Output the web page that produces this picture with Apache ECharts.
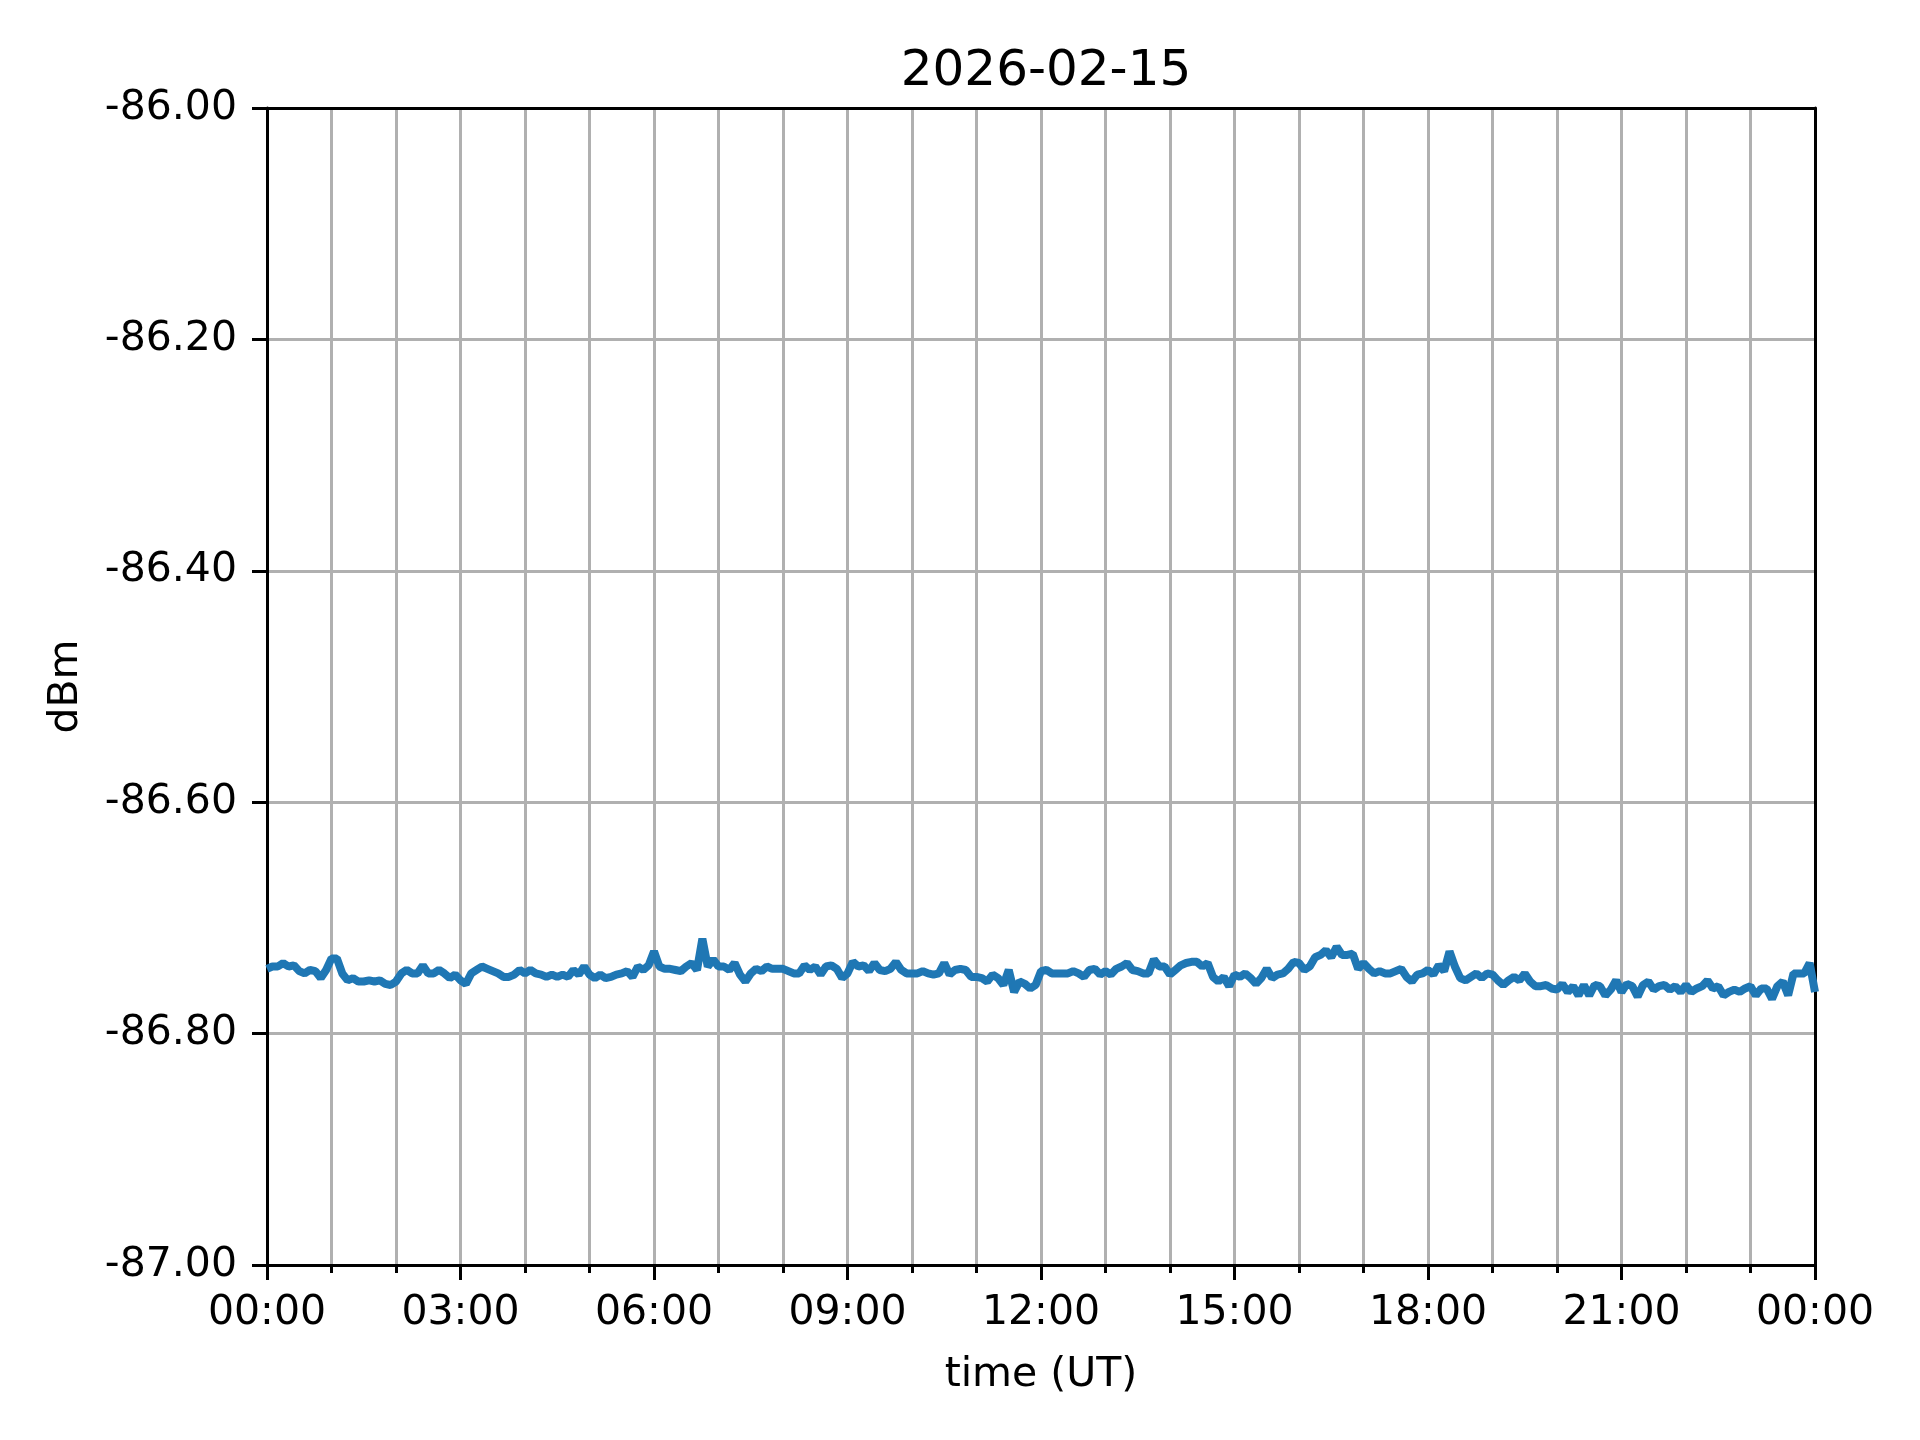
<!DOCTYPE html>
<html>
<head>
<meta charset="utf-8">
<script src="https://cdn.jsdelivr.net/npm/echarts@6/dist/echarts.min.js"></script>
<style>
  html, body { margin: 0; padding: 0; background: #fff; }
  #chart { width: 1920px; height: 1440px; }
</style>
</head>
<body>
<div id="chart"></div>
<script>
// 2026-02-15, one reading every 5 minutes (UT), dBm
const title = '2026-02-15'
const stepMinutes = 5
const dbm = [
  // 00
  -86.744,-86.742,-86.742,-86.739,-86.742,-86.741,-86.746,-86.748,-86.745,-86.746,-86.752,-86.745,
  // 01
  -86.735,-86.735,-86.748,-86.754,-86.752,-86.755,-86.755,-86.754,-86.755,-86.754,-86.757,-86.758,
  // 02
  -86.755,-86.748,-86.745,-86.748,-86.748,-86.741,-86.748,-86.748,-86.745,-86.748,-86.752,-86.749,
  // 03
  -86.754,-86.757,-86.748,-86.745,-86.742,-86.744,-86.746,-86.748,-86.751,-86.751,-86.749,-86.745,
  // 04
  -86.748,-86.745,-86.748,-86.749,-86.751,-86.749,-86.751,-86.749,-86.751,-86.745,-86.749,-86.742,
  // 05
  -86.749,-86.752,-86.749,-86.752,-86.751,-86.749,-86.748,-86.746,-86.751,-86.742,-86.745,-86.741,
  // 06
  -86.729,-86.742,-86.744,-86.744,-86.745,-86.746,-86.742,-86.739,-86.745,-86.718,-86.742,-86.736,
  // 07
  -86.742,-86.742,-86.745,-86.739,-86.749,-86.755,-86.748,-86.744,-86.746,-86.742,-86.744,-86.744,
  // 08
  -86.744,-86.746,-86.748,-86.748,-86.741,-86.745,-86.742,-86.749,-86.742,-86.741,-86.744,-86.752,
  // 09
  -86.748,-86.738,-86.742,-86.741,-86.746,-86.739,-86.745,-86.746,-86.744,-86.738,-86.745,-86.748,
  // 10
  -86.748,-86.748,-86.746,-86.748,-86.749,-86.748,-86.739,-86.749,-86.745,-86.744,-86.745,-86.751,
  // 11
  -86.751,-86.752,-86.755,-86.749,-86.752,-86.758,-86.745,-86.764,-86.755,-86.757,-86.761,-86.758,
  // 12
  -86.746,-86.745,-86.748,-86.748,-86.748,-86.748,-86.746,-86.748,-86.751,-86.745,-86.744,-86.749,
  // 13
  -86.746,-86.749,-86.744,-86.742,-86.739,-86.745,-86.746,-86.748,-86.748,-86.736,-86.742,-86.742,
  // 14
  -86.749,-86.745,-86.741,-86.739,-86.738,-86.738,-86.742,-86.739,-86.751,-86.755,-86.751,-86.759,
  // 15
  -86.749,-86.751,-86.748,-86.752,-86.757,-86.752,-86.744,-86.752,-86.749,-86.748,-86.744,-86.738,
  // 16
  -86.739,-86.745,-86.742,-86.734,-86.732,-86.728,-86.734,-86.725,-86.732,-86.732,-86.731,-86.744,
  // 17
  -86.739,-86.744,-86.748,-86.746,-86.748,-86.748,-86.746,-86.744,-86.751,-86.755,-86.749,-86.748,
  // 18
  -86.745,-86.749,-86.741,-86.746,-86.729,-86.742,-86.752,-86.754,-86.751,-86.748,-86.752,-86.748,
  // 19
  -86.749,-86.754,-86.758,-86.754,-86.751,-86.754,-86.748,-86.755,-86.759,-86.759,-86.758,-86.761,
  // 20
  -86.762,-86.757,-86.764,-86.759,-86.767,-86.758,-86.767,-86.758,-86.759,-86.767,-86.762,-86.754,
  // 21
  -86.764,-86.757,-86.759,-86.768,-86.758,-86.755,-86.762,-86.759,-86.758,-86.762,-86.759,-86.764,
  // 22
  -86.758,-86.764,-86.761,-86.759,-86.754,-86.761,-86.759,-86.767,-86.764,-86.762,-86.764,-86.761,
  // 23
  -86.759,-86.767,-86.761,-86.761,-86.770,-86.759,-86.755,-86.767,-86.748,-86.748,-86.748,-86.739,
  // 24
  -86.764
]

const font = 'DejaVu Sans'
const gridColor = '#b0b0b0'
const pad = n => (n < 10 ? '0' : '') + n

const chart = echarts.init(document.getElementById('chart'), null, { renderer: 'canvas' })

const seriesData = dbm.map((v, i) => [i * stepMinutes / 60, v])

// plain black frame axis (top / right spines)
const frame = {
  axisLine: { show: true, onZero: false, lineStyle: { color: '#000', width: 3 } },
  axisTick: { show: false },
  axisLabel: { show: false },
  splitLine: { show: false }
}

const option = {
  backgroundColor: '#fff',
  animation: false,
  textStyle: { fontFamily: font },
  title: {
    text: title,
    left: 1041,
    top: 42,
    textAlign: 'center',
    textStyle: { fontFamily: font, fontSize: 50, fontWeight: 'normal', color: '#000' }
  },
  grid: {
    left: 267,
    right: 105,
    top: 108,
    bottom: 175
  },
  xAxis: [{
    type: 'value',
    min: 0,
    max: 24,
    interval: 3,
    name: 'time (UT)',
    nameLocation: 'middle',
    nameGap: 90,
    nameTextStyle: { fontFamily: font, fontSize: 41, color: '#000' },
    axisLine: { show: true, onZero: false, lineStyle: { color: '#000', width: 3 } },
    axisTick: { show: true, length: 15, lineStyle: { color: '#000', width: 3 } },
    minorTick: { show: true, splitNumber: 3, length: 8, lineStyle: { color: '#000', width: 3 } },
    axisLabel: {
      fontFamily: font,
      fontSize: 41,
      color: '#000',
      margin: 28,
      formatter: v => pad(Math.round(v) % 24) + ':00'
    },
    splitLine: { show: true, lineStyle: { color: gridColor, width: 3 } },
    minorSplitLine: { show: true, lineStyle: { color: gridColor, width: 3 } }
  }, Object.assign({ type: 'value', position: 'top', min: 0, max: 24 }, frame)],
  yAxis: [{
    type: 'value',
    min: -87,
    max: -86,
    interval: 0.2,
    name: 'dBm',
    nameLocation: 'middle',
    nameGap: 180,
    nameRotate: 90,
    nameTextStyle: { fontFamily: font, fontSize: 41, color: '#000' },
    axisLine: { show: true, onZero: false, lineStyle: { color: '#000', width: 3 } },
    axisTick: { show: true, length: 15, lineStyle: { color: '#000', width: 3 } },
    axisLabel: {
      fontFamily: font,
      fontSize: 41,
      color: '#000',
      margin: 30,
      formatter: v => v.toFixed(2)
    },
    splitLine: { show: true, lineStyle: { color: gridColor, width: 3 } }
  }, Object.assign({ type: 'value', position: 'right', min: -87, max: -86 }, frame)],
  series: [{
    name: 'dBm',
    type: 'line',
    data: seriesData,
    showSymbol: false,
    symbol: 'none',
    lineStyle: { color: '#1f77b4', width: 8 },
    z: 3
  }]
}

chart.setOption(option)
</script>
</body>
</html>
